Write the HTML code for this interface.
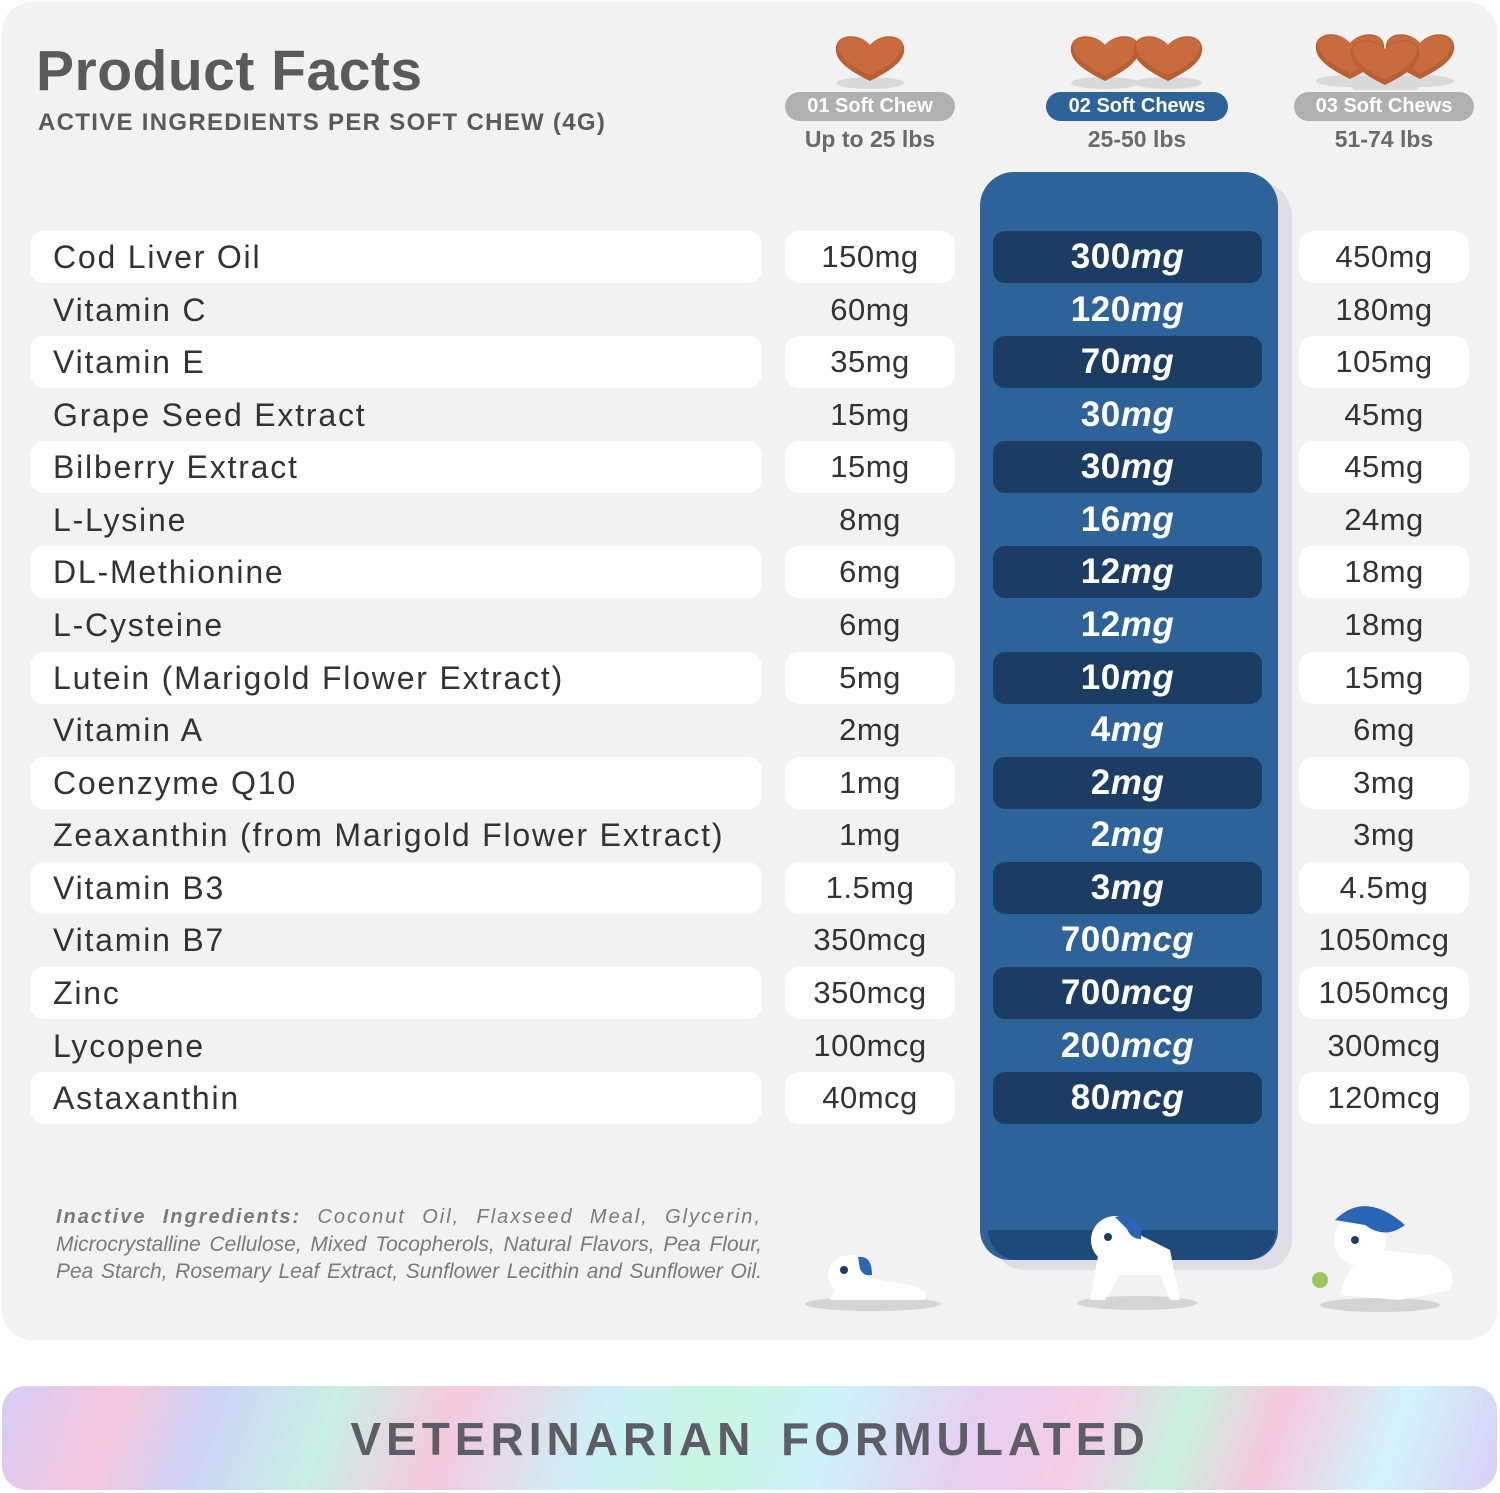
<!DOCTYPE html>
<html><head><meta charset="utf-8"><style>
*{margin:0;padding:0;box-sizing:border-box}
body{width:1500px;height:1493px;background:#fff;position:relative;overflow:hidden;font-family:"Liberation Sans",sans-serif}
.card{position:absolute;left:2px;top:2px;width:1495px;height:1338px;background:#f2f2f2;border-radius:30px}
.a{position:absolute}
.title{left:36px;top:38px;font-size:57px;font-weight:bold;color:#5a5a5a;letter-spacing:0.5px}
.sub{left:38px;top:109px;font-size:24px;font-weight:bold;color:#5a5a5a;letter-spacing:1.3px}
.badge{top:92px;height:29px;border-radius:15px;color:#fff;font-size:20px;font-weight:bold;text-align:center;line-height:29px}
.wt{top:126px;font-size:23px;font-weight:bold;color:#6a6a6a;text-align:center;width:200px}
.blue{left:980px;top:172px;width:298px;height:1088px;background:#2e6399;border-radius:34px 34px 30px 30px;box-shadow:14px 10px 0 #dedee4}
.blueb{left:988px;top:1230px;width:288px;height:30px;background:#1e4a7a;border-radius:0 0 30px 30px}
.pill{position:absolute;background:#fff;border-radius:14px;height:52px}
.dk{position:absolute;background:#1c3d63;border-radius:12px;height:52px;left:993px;width:269px}
.lab{position:absolute;left:53px;font-size:32px;color:#333;height:52px;line-height:52px;letter-spacing:1.8px}
.v1,.v3,.v2{position:absolute;height:52px;line-height:52px;text-align:center;font-size:31px;color:#333;letter-spacing:0.5px}
.v1{left:785px;width:170px}.v3{left:1299px;width:170px}
.v2{left:993px;width:269px;color:#fff;font-size:35px;font-weight:bold}
.v2 i{font-style:italic}
.inact{left:56px;top:1204px;width:706px;font-style:italic;color:#7a7a7a;line-height:27px}
.inact div{text-align:justify;text-align-last:justify;white-space:nowrap}
.banner{left:2px;top:1386px;width:1495px;height:104px;border-radius:24px;background:linear-gradient(110deg,#d6ccf5 0%,#f6c8dc 8%,#cfd2f6 14%,#c8f0e4 22%,#f6c9dc 30%,#cdf0f6 40%,#c8f6e2 48%,#cdf3fa 55%,#e6d0f2 64%,#f5cde4 72%,#c9f2e0 78%,#f6c8dc 84%,#d3f3fa 92%,#d8d0f6 100%)}
.btxt{left:0;width:1500px;top:1412px;text-align:center;font-size:46px;font-weight:bold;color:#5d5d66;letter-spacing:5px;word-spacing:8px}
</style></head><body>
<div class="card"></div>
<div class="a title">Product Facts</div>
<div class="a sub">ACTIVE INGREDIENTS PER SOFT CHEW (4G)</div>

<svg class="a" style="left:800px;top:25px" width="680" height="65" viewBox="0 0 680 65">
<defs><g id="h"><ellipse cx="0" cy="30" rx="34" ry="6" fill="#d9d9d9"/><path d="M0 28 C-20 18 -36 8 -34 -6 C-32 -20 -10 -20 0 -8 C10 -20 32 -20 34 -6 C36 8 20 18 0 28Z" fill="#b85f33"/><path d="M0 22 C-18 14 -32 4 -32 -8 C-30 -18 -10 -18 0 -8 C10 -18 30 -18 32 -8 C32 4 18 14 0 22Z" fill="#c96c3d"/></g></defs>
<use href="#h" x="70" y="28"/>
<use href="#h" x="305" y="28"/><use href="#h" x="368" y="28"/>
<use href="#h" x="550" y="26"/><use href="#h" x="620" y="26"/><use href="#h" x="585" y="32"/>
</svg>

<div class="a badge" style="left:785px;width:170px;background:#b0b0b0">01 Soft Chew</div>
<div class="a badge" style="left:1046px;width:182px;background:#2e6399">02 Soft Chews</div>
<div class="a badge" style="left:1294px;width:180px;background:#b0b0b0">03 Soft Chews</div>
<div class="a wt" style="left:770px">Up to 25 lbs</div>
<div class="a wt" style="left:1037px">25-50 lbs</div>
<div class="a wt" style="left:1284px">51-74 lbs</div>

<div class="a blue"></div>
<div class="a blueb"></div>

<div class="pill" style="left:30px;width:732px;top:231px"></div><div class="pill" style="left:785px;width:170px;top:231px"></div><div class="pill" style="left:1299px;width:170px;top:231px"></div><div class="dk" style="top:231px"></div>
<div class="pill" style="left:30px;width:732px;top:336px"></div><div class="pill" style="left:785px;width:170px;top:336px"></div><div class="pill" style="left:1299px;width:170px;top:336px"></div><div class="dk" style="top:336px"></div>
<div class="pill" style="left:30px;width:732px;top:441px"></div><div class="pill" style="left:785px;width:170px;top:441px"></div><div class="pill" style="left:1299px;width:170px;top:441px"></div><div class="dk" style="top:441px"></div>
<div class="pill" style="left:30px;width:732px;top:546px"></div><div class="pill" style="left:785px;width:170px;top:546px"></div><div class="pill" style="left:1299px;width:170px;top:546px"></div><div class="dk" style="top:546px"></div>
<div class="pill" style="left:30px;width:732px;top:652px"></div><div class="pill" style="left:785px;width:170px;top:652px"></div><div class="pill" style="left:1299px;width:170px;top:652px"></div><div class="dk" style="top:652px"></div>
<div class="pill" style="left:30px;width:732px;top:757px"></div><div class="pill" style="left:785px;width:170px;top:757px"></div><div class="pill" style="left:1299px;width:170px;top:757px"></div><div class="dk" style="top:757px"></div>
<div class="pill" style="left:30px;width:732px;top:862px"></div><div class="pill" style="left:785px;width:170px;top:862px"></div><div class="pill" style="left:1299px;width:170px;top:862px"></div><div class="dk" style="top:862px"></div>
<div class="pill" style="left:30px;width:732px;top:967px"></div><div class="pill" style="left:785px;width:170px;top:967px"></div><div class="pill" style="left:1299px;width:170px;top:967px"></div><div class="dk" style="top:967px"></div>
<div class="pill" style="left:30px;width:732px;top:1072px"></div><div class="pill" style="left:785px;width:170px;top:1072px"></div><div class="pill" style="left:1299px;width:170px;top:1072px"></div><div class="dk" style="top:1072px"></div>

<div class="lab" style="top:231px">Cod Liver Oil</div><div class="v1" style="top:231px">150mg</div><div class="v2" style="top:231px">300<i>mg</i></div><div class="v3" style="top:231px">450mg</div>
<div class="lab" style="top:284px">Vitamin C</div><div class="v1" style="top:284px">60mg</div><div class="v2" style="top:284px">120<i>mg</i></div><div class="v3" style="top:284px">180mg</div>
<div class="lab" style="top:336px">Vitamin E</div><div class="v1" style="top:336px">35mg</div><div class="v2" style="top:336px">70<i>mg</i></div><div class="v3" style="top:336px">105mg</div>
<div class="lab" style="top:389px">Grape Seed Extract</div><div class="v1" style="top:389px">15mg</div><div class="v2" style="top:389px">30<i>mg</i></div><div class="v3" style="top:389px">45mg</div>
<div class="lab" style="top:441px">Bilberry Extract</div><div class="v1" style="top:441px">15mg</div><div class="v2" style="top:441px">30<i>mg</i></div><div class="v3" style="top:441px">45mg</div>
<div class="lab" style="top:494px">L-Lysine</div><div class="v1" style="top:494px">8mg</div><div class="v2" style="top:494px">16<i>mg</i></div><div class="v3" style="top:494px">24mg</div>
<div class="lab" style="top:546px">DL-Methionine</div><div class="v1" style="top:546px">6mg</div><div class="v2" style="top:546px">12<i>mg</i></div><div class="v3" style="top:546px">18mg</div>
<div class="lab" style="top:599px">L-Cysteine</div><div class="v1" style="top:599px">6mg</div><div class="v2" style="top:599px">12<i>mg</i></div><div class="v3" style="top:599px">18mg</div>
<div class="lab" style="top:652px">Lutein (Marigold Flower Extract)</div><div class="v1" style="top:652px">5mg</div><div class="v2" style="top:652px">10<i>mg</i></div><div class="v3" style="top:652px">15mg</div>
<div class="lab" style="top:704px">Vitamin A</div><div class="v1" style="top:704px">2mg</div><div class="v2" style="top:704px">4<i>mg</i></div><div class="v3" style="top:704px">6mg</div>
<div class="lab" style="top:757px">Coenzyme Q10</div><div class="v1" style="top:757px">1mg</div><div class="v2" style="top:757px">2<i>mg</i></div><div class="v3" style="top:757px">3mg</div>
<div class="lab" style="top:809px">Zeaxanthin (from Marigold Flower Extract)</div><div class="v1" style="top:809px">1mg</div><div class="v2" style="top:809px">2<i>mg</i></div><div class="v3" style="top:809px">3mg</div>
<div class="lab" style="top:862px">Vitamin B3</div><div class="v1" style="top:862px">1.5mg</div><div class="v2" style="top:862px">3<i>mg</i></div><div class="v3" style="top:862px">4.5mg</div>
<div class="lab" style="top:914px">Vitamin B7</div><div class="v1" style="top:914px">350mcg</div><div class="v2" style="top:914px">700<i>mcg</i></div><div class="v3" style="top:914px">1050mcg</div>
<div class="lab" style="top:967px">Zinc</div><div class="v1" style="top:967px">350mcg</div><div class="v2" style="top:967px">700<i>mcg</i></div><div class="v3" style="top:967px">1050mcg</div>
<div class="lab" style="top:1020px">Lycopene</div><div class="v1" style="top:1020px">100mcg</div><div class="v2" style="top:1020px">200<i>mcg</i></div><div class="v3" style="top:1020px">300mcg</div>
<div class="lab" style="top:1072px">Astaxanthin</div><div class="v1" style="top:1072px">40mcg</div><div class="v2" style="top:1072px">80<i>mcg</i></div><div class="v3" style="top:1072px">120mcg</div>

<div class="a inact">
<div style="font-size:20px;letter-spacing:2px"><b>Inactive Ingredients:</b> Coconut Oil, Flaxseed Meal, Glycerin,</div>
<div style="font-size:21px;letter-spacing:0px">Microcrystalline Cellulose, Mixed Tocopherols, Natural Flavors, Pea Flour,</div>
<div style="font-size:21px;letter-spacing:0px">Pea Starch, Rosemary Leaf Extract, Sunflower Lecithin and Sunflower Oil.</div>
</div>

<svg class="a" style="left:800px;top:1195px" width="680" height="125" viewBox="0 0 680 125">
<ellipse cx="73" cy="109" rx="68" ry="7" fill="#d4d4d4"/>
<ellipse cx="337" cy="108" rx="60" ry="7" fill="#d4d4d4"/>
<ellipse cx="580" cy="110" rx="60" ry="7" fill="#d4d4d4"/>
<path d="M30 105 Q40 80 60 82 L110 90 Q130 95 125 105Z" fill="#fff"/>
<ellipse cx="50" cy="80" rx="22" ry="20" fill="#fff"/><path d="M58 62 q14 -2 14 18 q-8 2 -12 -6z" fill="#2a66b5"/><circle cx="44" cy="75" r="4" fill="#1c3d63"/>
<path d="M290 105 L300 50 Q310 30 340 40 L370 55 L380 105 L370 105 L360 80 L320 80 L305 105Z" fill="#fff"/>
<ellipse cx="315" cy="45" rx="24" ry="24" fill="#fff"/><path d="M315 22 q28 -6 26 22 q-10 0 -14 -10z" fill="#2a66b5"/><circle cx="308" cy="42" r="4" fill="#1c3d63"/>
<path d="M540 100 Q550 60 580 55 L630 60 Q660 70 650 95 L600 105Z" fill="#fff"/>
<ellipse cx="560" cy="45" rx="26" ry="26" fill="#fff"/><path d="M535 25 q30 -30 70 5 q-20 15 -40 0z" fill="#2a66b5"/><circle cx="555" cy="45" r="4" fill="#1c3d63"/>
<circle cx="520" cy="85" r="8" fill="#9bc45a"/>
</svg>

<div class="a banner"></div>
<div class="a btxt">VETERINARIAN FORMULATED</div>
</body></html>
